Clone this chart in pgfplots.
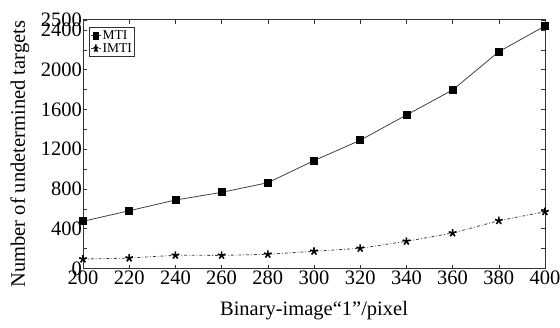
\documentclass[border=0pt]{standalone}
\usepackage{pgfplots}
\pgfplotsset{compat=1.18}
\usepackage{fontspec}
\setmainfont{Liberation Serif}
\begin{document}
\begin{tikzpicture}
\useasboundingbox (-83bp,-59.5bp) rectangle (477bp,268.5bp);
\begin{axis}[
  scale only axis,
  width=462bp, height=248.5bp,
  xmin=200, xmax=400, ymin=0, ymax=2500,
  xtick={200,220,...,400},
  ytick={0,400,800,1200,1600,2000,2400,2500},
  minor ytick={200,600,1000,1400,1800,2200},
  tick align=inside,
  major tick length=4bp, minor tick length=4bp,
  /pgf/number format/assume math mode=true,
  /pgf/number format/set thousands separator={},
  tick label style={font=\fontsize{20.5bp}{22bp}\selectfont},
  yticklabel style={xshift=2.5bp},
  xticklabel style={yshift=1.5bp},
  axis line style={line width=1pt, black!80},
  every tick/.style={black!80, line width=0.6pt},
  xlabel={Binary-image“1”/pixel},
  ylabel={Number of undetermined targets},
  label style={font=\fontsize{20.5bp}{22bp}\selectfont},
  xlabel style={at={(axis description cs:0.5,0)}, anchor=base, yshift=-47bp},
  ylabel style={at={(axis description cs:0,0.46)}, anchor=base, xshift=0bp, yshift=58bp},
  legend style={at={(axis description cs:0.012,0.97)}, anchor=north west,
    font=\fontsize{13.5bp}{14bp}\selectfont, draw=black!80, line width=0.8pt,
    inner sep=1.5bp, row sep=0bp, nodes={inner sep=1.2bp}},
  legend cell align=left,
  legend image post style={xscale=0.6},
]
\addplot[black!75, line width=0.8pt, mark=square*, mark size=3.5bp, mark options={fill=black, draw=black, solid}]
 coordinates {(200,475) (220,581) (240,689) (260,766) (280,863) (300,1085) (320,1290) (340,1544) (360,1796) (380,2181) (400,2440)};
\addlegendentry{MTI}
\addplot[black!75, line width=0.8pt, dash dot, mark=star, mark size=4bp, mark options={fill=black, draw=black, solid, line width=1.6pt}]
 coordinates {(200,95) (220,105) (240,133) (260,132) (280,143) (300,173) (320,203) (340,274) (360,357) (380,481) (400,571)};
\addlegendentry{IMTI}
\end{axis}
\end{tikzpicture}
\end{document}
